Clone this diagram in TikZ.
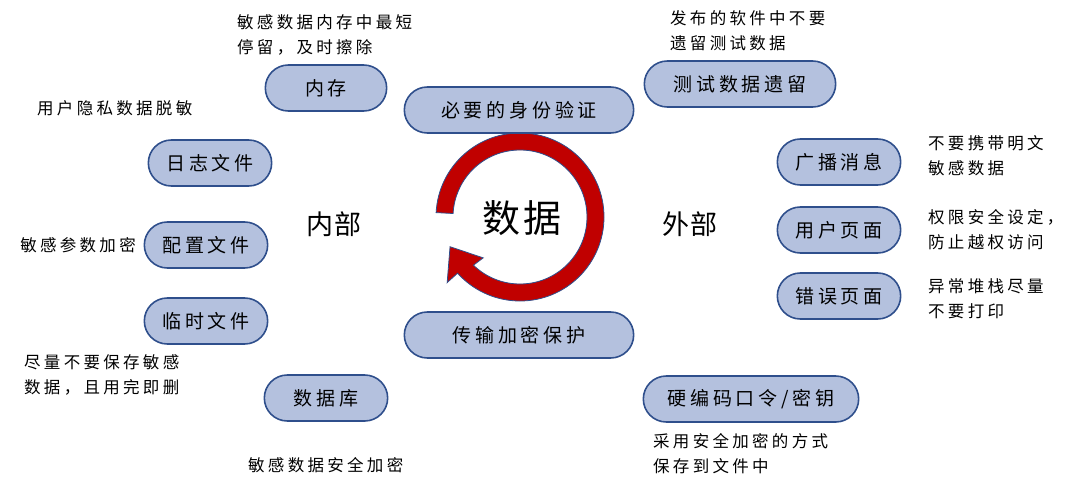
\documentclass[tikz,border=0pt]{standalone}
\usepackage{fontspec}
\setmainfont{Noto Sans CJK SC}[LetterSpace=20]
\usetikzlibrary{shapes.misc}
\definecolor{pillfill}{RGB}{180,193,222}
\definecolor{pilldraw}{RGB}{47,79,140}
\definecolor{ringred}{RGB}{192,0,0}

\begin{document}
\begin{tikzpicture}[x=1pt,y=-1pt,
    pill/.style={rounded rectangle, draw=pilldraw, fill=pillfill, line width=1.6pt, minimum height=46pt, font=\fontsize{19}{23}\selectfont},
    note/.style={align=left, inner sep=0pt, anchor=west, font=\fontsize{16.5}{25}\selectfont},
    side/.style={font=\fontsize{27}{30}\selectfont\addfontfeature{LetterSpace=5}}
]
\useasboundingbox (0,0) rectangle (1080,490);

% ring arrow round the centre
\begin{scope}[shift={(520,217)}]
\filldraw[fill=ringred, draw=pilldraw, line width=0.8pt]
    (-177:84) arc[start angle=-177, end angle=138, radius=84]
    -- (138:98) -- (157:76) -- (132:55) -- (134:67)
    arc[start angle=134, end angle=-177, radius=67] -- cycle;
\end{scope}
\node[font=\fontsize{38}{42}\selectfont\addfontfeature{LetterSpace=8}] (data) at (522,218) {数据};
\node[side] (inner) at (334,224) {内部};
\node[side] (outer) at (690,224) {外部};

% inner side
\node[pill, minimum width=128pt] (mem) at (326,88) {内存};
\node[pill, minimum width=130pt] (log) at (210,163) {日志文件};
\node[pill, minimum width=130pt] (conf) at (206,245) {配置文件};
\node[pill, minimum width=130pt] (tmp) at (206,321) {临时文件};
\node[pill, minimum width=130pt] (db) at (326,398) {数据库};

% middle
\node[pill, minimum width=236pt] (auth) at (519,110) {必要的身份验证};
\node[pill, minimum width=236pt] (trans) at (519,335) {传输加密保护};

% outer side
\node[pill, minimum width=198pt] (test) at (740,84) {测试数据遗留};
\node[pill, minimum width=130pt] (bcast) at (839,162) {广播消息};
\node[pill, minimum width=130pt] (upage) at (839,230) {用户页面};
\node[pill, minimum width=130pt] (epage) at (839,296) {错误页面};
\node[pill, minimum width=222pt] (key) at (751,399) {硬编码口令/密钥};

% notes
\node[note] (memnote) at (237,34.5) {敏感数据内存中最短\\停留，及时擦除};
\node[note] (lognote) at (37,108) {用户隐私数据脱敏};
\node[note, anchor=east] (confnote) at (136,245) {敏感参数加密};
\node[note] (tmpnote) at (24,375) {尽量不要保存敏感\\数据，且用完即删};
\node[note] (dbnote) at (248,465) {敏感数据安全加密};
\node[note] (testnote) at (670,30.5) {发布的软件中不要\\遗留测试数据};
\node[note] (bcastnote) at (928,156) {不要携带明文\\敏感数据};
\node[note] (upagenote) at (928,229.5) {权限安全设定，\\防止越权访问};
\node[note] (epagenote) at (928,298.5) {异常堆栈尽量\\不要打印};
\node[note] (keynote) at (653,453.5) {采用安全加密的方式\\保存到文件中};
\end{tikzpicture}
\end{document}
